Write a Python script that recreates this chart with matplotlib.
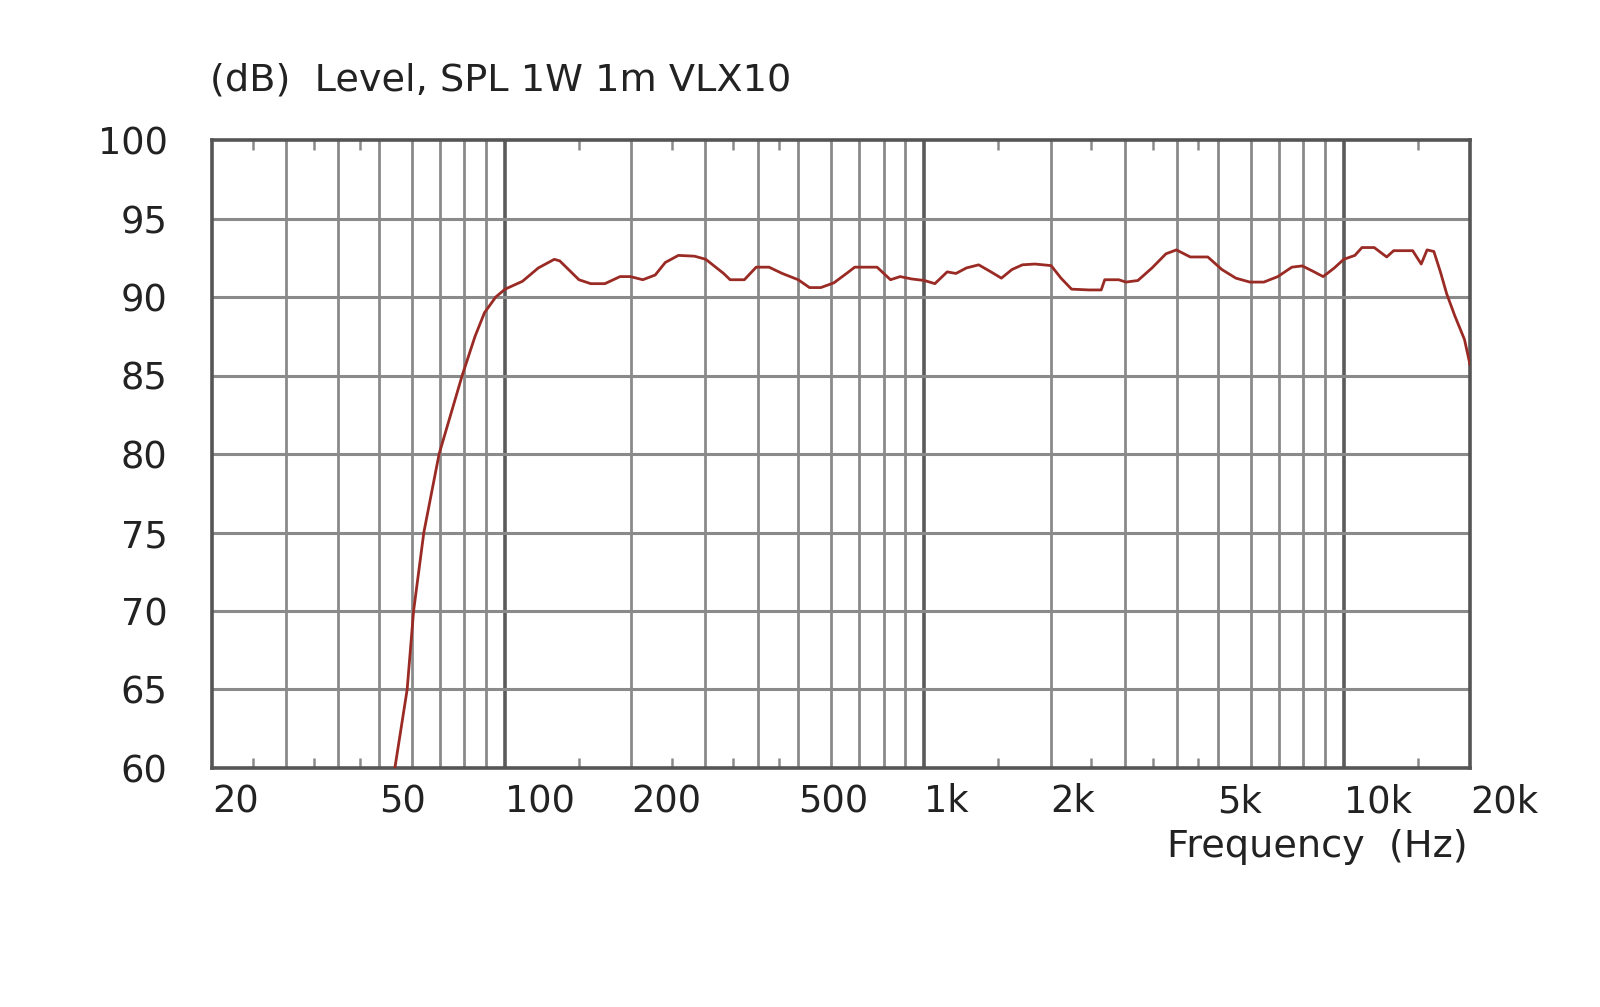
import matplotlib
matplotlib.use("Agg")
import matplotlib.pyplot as plt
import numpy as np

plt.rcParams['font.family'] = ['DejaVu Sans']

freq_hz = [53.5, 58.4, 60.5, 64, 69.6, 79, 84.8, 89.3, 95, 100,
           110, 120, 131, 135, 150, 160, 173, 188, 199, 213, 228, 241, 259, 283, 301,
           332, 344, 372, 397, 426, 458, 500, 532, 566, 608, 652, 682, 771, 830, 875, 932,
           1000, 1059, 1133, 1189, 1259, 1347, 1441, 1526, 1617, 1713, 1833, 2005, 2117,
           2243, 2467, 2640, 2691, 2906, 3022, 3228, 3489, 3766, 3989, 4305, 4740, 5120,
           5530, 5972, 6447, 6963, 7519, 7962, 8429, 8930, 9494, 10000, 10630, 11050,
           11820, 12660, 13150, 14600, 15300, 15800, 16400, 17000, 17600, 18400, 19400, 20000]
level_db = [58.5, 65.0, 70.0, 75.0, 80.0, 85.0, 87.5, 89.0, 90.0, 90.5,
            91.0, 91.85, 92.4, 92.3, 91.1, 90.85, 90.85, 91.3, 91.3, 91.1, 91.4, 92.2, 92.65, 92.6, 92.4,
            91.5, 91.1, 91.1, 91.9, 91.9, 91.5, 91.1, 90.6, 90.6, 90.9, 91.5, 91.9, 91.9, 91.1, 91.3, 91.15,
            91.05, 90.85, 91.6, 91.5, 91.85, 92.05, 91.6, 91.2, 91.75, 92.05, 92.1, 92.0, 91.2,
            90.5, 90.45, 90.45, 91.1, 91.1, 90.95, 91.05, 91.85, 92.75, 93.0, 92.55, 92.55, 91.75,
            91.2, 90.95, 90.95, 91.3, 91.9, 91.98, 91.65, 91.3, 91.85, 92.4, 92.65, 93.15,
            93.15, 92.55, 92.95, 92.95, 92.1, 93.0, 92.9, 91.6, 90.2, 88.8, 87.3, 85.7]

tick_vals = [20, 50, 100, 200, 500, 1000, 2000, 5000, 10000, 20000]
tick_labels = ['20', '50', '100', '200', '500', '1k', '2k', '5k', '10k', '20k']
minor_tick_vals = [25, 35, 45, 150, 250, 350, 450, 1500, 2500, 3500, 4500, 15000]
y_ticks = [60, 65, 70, 75, 80, 85, 90, 95, 100]

fig = plt.figure(figsize=(16, 10.07), dpi=100)
ax = fig.add_axes([212/1600, 1 - 768/1007, (1470-212)/1600, (768-140)/1007])
ax.set_xscale('log')
ax.set_xlim(20, 20000)
ax.set_ylim(60, 100)

grid_col = '#8a8a8a'
major_col = '#5a5a5a'
for dec in [10, 100, 1000, 10000]:
    for m in range(1, 10):
        f = dec * m
        if f <= 20 or f >= 20000:
            continue
        if m == 1:
            ax.axvline(f, color=major_col, lw=2.6, zorder=1)
        else:
            ax.axvline(f, color=grid_col, lw=2.0, zorder=1)
for y in y_ticks[1:-1]:
    ax.axhline(y, color=grid_col, lw=2.2, zorder=1)

ax.plot(freq_hz, level_db, color='#9a2a24', lw=2.0, zorder=3, clip_on=True)

ax.set_xticks(tick_vals)
ax.set_xticklabels(tick_labels, ha='left')
ax.set_xticks(minor_tick_vals, minor=True)
ax.xaxis.set_minor_formatter(matplotlib.ticker.NullFormatter())
ax.tick_params(axis='x', which='major', length=0, pad=11, labelsize=26.5, labelcolor='#222222')
ax.tick_params(axis='x', which='minor', length=7, width=1.8, direction='in',
               top=True, bottom=True, color=grid_col)
ax.set_yticks(y_ticks)
ax.set_yticklabels([str(v) for v in y_ticks])
ax.tick_params(axis='y', which='major', length=0, pad=32, labelsize=26.5, labelcolor='#222222')
for lab in ax.get_xticklabels():
    lab.set_horizontalalignment('left')

for sp in ax.spines.values():
    sp.set_color('#555555')
    sp.set_linewidth(2.6)

fig.text(210/1600, 1 - 80/1007, '(dB)  Level, SPL 1W 1m VLX10', fontsize=27.5,
         color='#222222', ha='left', va='center')
fig.text(1468/1600, 1 - 847/1007, 'Frequency  (Hz)', fontsize=27.5,
         color='#222222', ha='right', va='center')

fig.savefig('out.png', dpi=100, facecolor='white')
